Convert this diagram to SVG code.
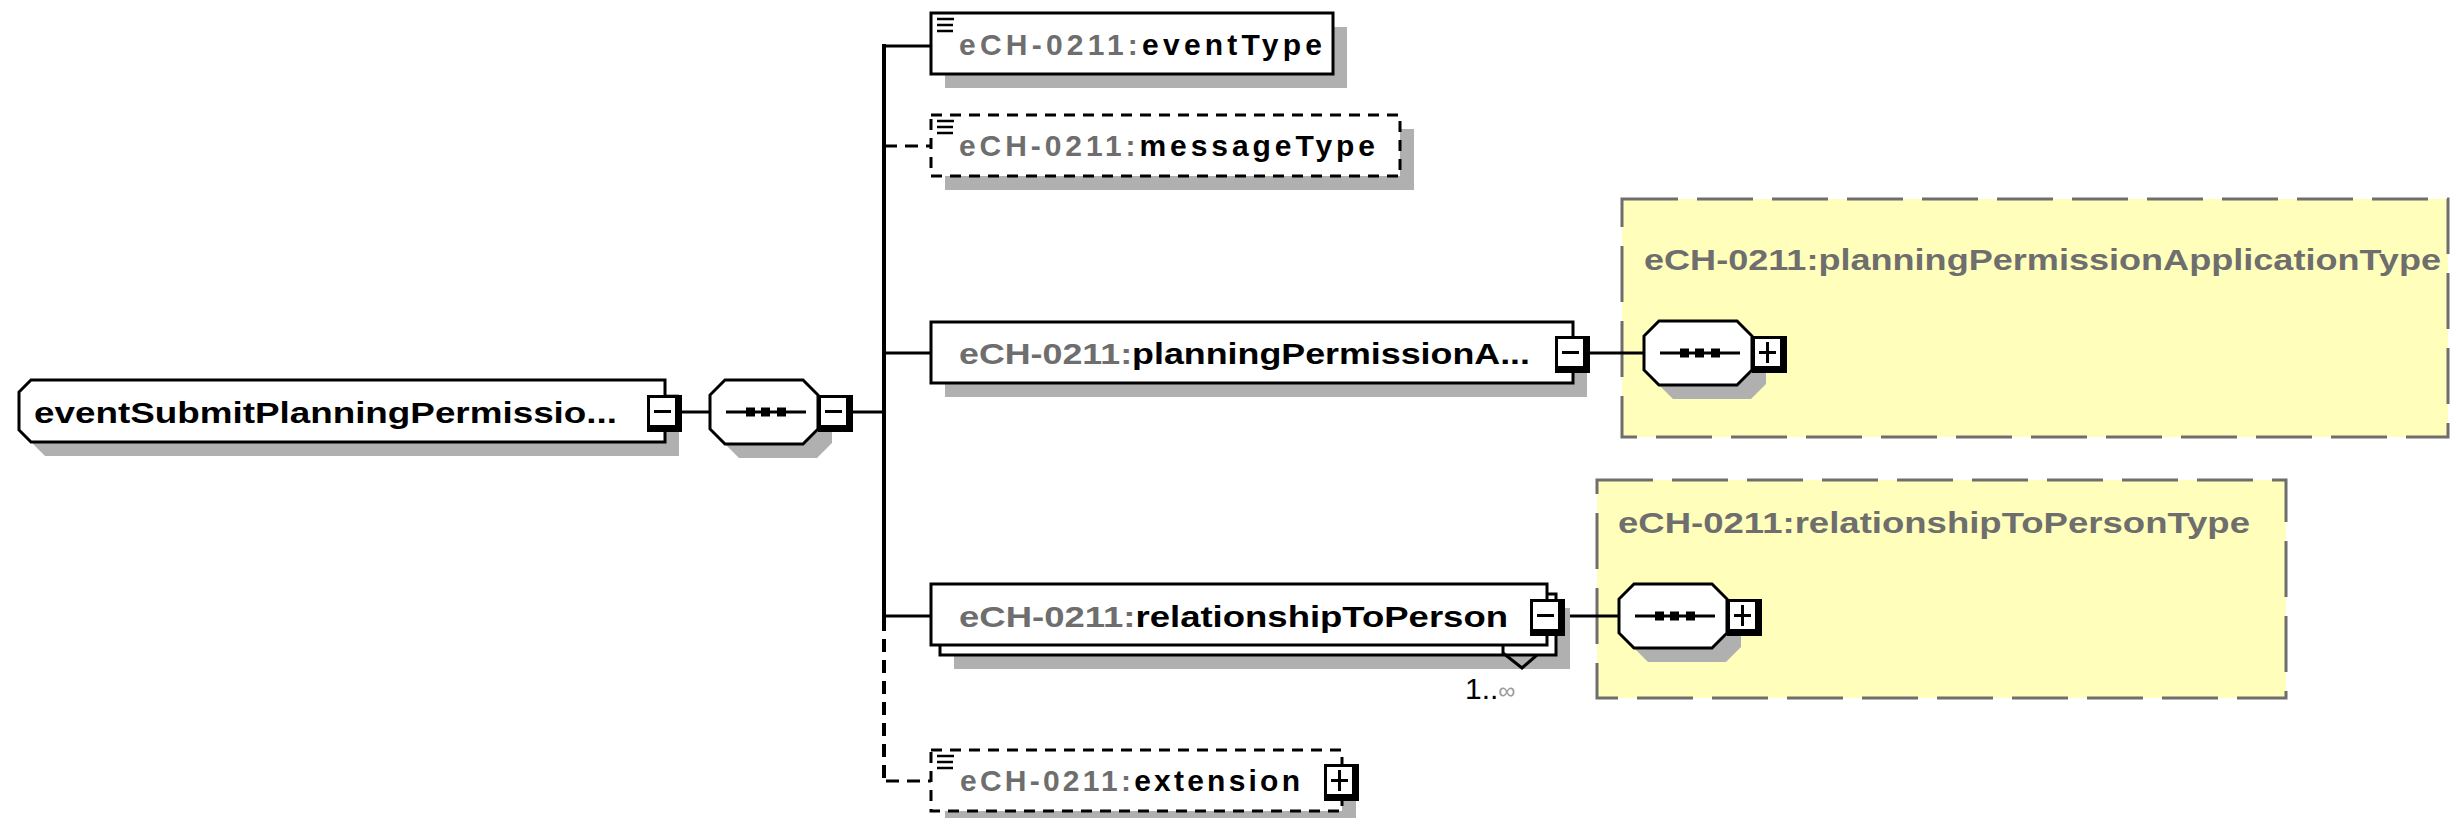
<svg xmlns="http://www.w3.org/2000/svg" xmlns:xlink="http://www.w3.org/1999/xlink" width="2450" height="818" viewBox="0 0 2450 818">
<style>
.box{fill:#fff;stroke:#000;stroke-width:3}
.dbox{fill:#fff;stroke:#000;stroke-width:3;stroke-dasharray:11 8}
.sh{fill:#b0b0b0}
.ybox{fill:#ffffbb;stroke:#6e6e6e;stroke-width:3;stroke-dasharray:56 19}
.ln{stroke:#000;stroke-width:3;fill:none}
.trunk{stroke:#000;stroke-width:4;fill:none}
.dln{stroke:#000;stroke-width:3;fill:none;stroke-dasharray:13 8}
.dtrunk{stroke:#000;stroke-width:4;fill:none;stroke-dasharray:13 8}
.t{font-family:"Liberation Sans",Arial,sans-serif;font-weight:bold;font-size:30px;fill:#000}
.g{fill:#6e6e6e}
.ic{stroke:#000;stroke-width:2.5}
</style>
<defs>
<g id="minus"><rect x="0" y="0" width="35" height="37" fill="#000"/><rect x="3" y="3" width="25" height="27" fill="#fff"/><line x1="7" y1="16.5" x2="24" y2="16.5" stroke="#000" stroke-width="3"/></g>
<g id="plus"><rect x="0" y="0" width="35" height="37" fill="#000"/><rect x="3" y="3" width="25" height="27" fill="#fff"/><line x1="7" y1="16.5" x2="24" y2="16.5" stroke="#000" stroke-width="3"/><line x1="15.5" y1="6" x2="15.5" y2="27" stroke="#000" stroke-width="3"/></g>
<g id="seq">
<path class="sh" transform="translate(14,14)" d="M15,0 H93 L108,15 V49 L93,64 H15 L0,49 V15 Z"/>
<path d="M15,0 H93 L108,15 V49 L93,64 H15 L0,49 V15 Z" fill="#fff" stroke="#000" stroke-width="3"/>
<line x1="16" y1="32" x2="96" y2="32" stroke="#000" stroke-width="3"/>
<rect x="36" y="27.5" width="9" height="9" fill="#000"/><rect x="51" y="27.5" width="9" height="9" fill="#000"/><rect x="67" y="27.5" width="9" height="9" fill="#000"/>
</g>
<g id="icon"><line class="ic" x1="0" y1="0" x2="17" y2="0"/><line class="ic" x1="0" y1="6" x2="16" y2="6"/><line class="ic" x1="0" y1="12" x2="16" y2="12"/></g>
</defs>
<rect width="2450" height="818" fill="#fff"/>

<g id="typebox-planningPermissionApplicationType">
<rect class="ybox" x="1622" y="199" width="826" height="238"/>
<text class="t g" x="1644" y="270" textLength="797" lengthAdjust="spacingAndGlyphs">eCH-0211:planningPermissionApplicationType</text>
</g>
<g id="typebox-relationshipToPersonType">
<rect class="ybox" x="1597" y="480" width="689" height="218"/>
<text class="t g" x="1618" y="533" textLength="632" lengthAdjust="spacingAndGlyphs">eCH-0211:relationshipToPersonType</text>
</g>

<g id="connectors">
<line class="trunk" x1="884" y1="44" x2="884" y2="618"/>
<line class="dtrunk" x1="884" y1="618" x2="884" y2="781"/>
<line class="ln" x1="884" y1="46" x2="931" y2="46"/>
<line class="dln" x1="884" y1="146" x2="931" y2="146"/>
<line class="ln" x1="884" y1="353" x2="931" y2="353"/>
<line class="ln" x1="884" y1="616" x2="931" y2="616"/>
<line class="dln" x1="886" y1="781" x2="931" y2="781"/>
<line class="ln" x1="680" y1="412" x2="710" y2="412"/>
<line class="ln" x1="850" y1="412" x2="884" y2="412"/>
<line class="ln" x1="1588" y1="353" x2="1644" y2="353"/>
<line class="ln" x1="1563" y1="616" x2="1619" y2="616"/>
</g>

<g id="root">
<path class="sh" transform="translate(14,14)" d="M31,380 H665 V442 H31 L19,430 V392 Z"/>
<path class="box" d="M31,380 H665 V442 H31 L19,430 V392 Z"/>
<text class="t" x="34" y="423" textLength="583" lengthAdjust="spacingAndGlyphs">eventSubmitPlanningPermissio...</text>
<use xlink:href="#minus" x="647" y="395"/>
</g>

<g id="sequence-root">
<use xlink:href="#seq" x="710" y="380"/>
<use xlink:href="#minus" x="818" y="395"/>
</g>

<g id="eventType">
<rect class="sh" x="945" y="27" width="402" height="61"/>
<rect class="box" x="931" y="13" width="402" height="61"/>
<use xlink:href="#icon" x="937" y="19"/>
<text class="t" x="959" y="55" textLength="363" lengthAdjust="spacing"><tspan class="g">eCH-0211:</tspan>eventType</text>
</g>

<g id="messageType">
<rect class="sh" x="945" y="129" width="469" height="61"/>
<rect class="dbox" x="931" y="115" width="469" height="61"/>
<use xlink:href="#icon" x="937" y="121"/>
<text class="t" x="959" y="156" textLength="416" lengthAdjust="spacing"><tspan class="g">eCH-0211:</tspan>messageType</text>
</g>

<g id="planningPermissionApplication">
<rect class="sh" x="945" y="336" width="642" height="61"/>
<rect class="box" x="931" y="322" width="642" height="61"/>
<text class="t" x="959" y="364" textLength="571" lengthAdjust="spacingAndGlyphs"><tspan class="g">eCH-0211:</tspan>planningPermissionA...</text>
<use xlink:href="#minus" x="1555" y="336"/>
</g>

<g id="sequence-planning">
<use xlink:href="#seq" x="1644" y="321"/>
<use xlink:href="#plus" x="1752" y="336"/>
</g>

<g id="relationshipToPerson">
<rect class="sh" x="954" y="608" width="616" height="61"/>
<rect class="box" x="940" y="594" width="616" height="61"/>
<rect class="box" x="931" y="584" width="616" height="61"/>
<text class="t" x="959" y="627" textLength="549" lengthAdjust="spacingAndGlyphs"><tspan class="g">eCH-0211:</tspan>relationshipToPerson</text>
<use xlink:href="#minus" x="1530" y="599"/>
<polyline class="ln" points="1503,646 1503,653 1522,668 1537,655"/>
<text x="1465" y="699" style="font-family:'Liberation Sans',Arial,sans-serif;font-size:30px" fill="#000">1..<tspan fill="#9a9a9a" font-size="24">∞</tspan></text>
</g>

<g id="sequence-relationship">
<use xlink:href="#seq" x="1619" y="584"/>
<use xlink:href="#plus" x="1727" y="599"/>
</g>

<g id="extension">
<rect class="sh" x="945" y="764" width="411" height="61"/>
<rect class="dbox" x="931" y="750" width="411" height="61"/>
<use xlink:href="#icon" x="937" y="756"/>
<text class="t" x="960" y="791" textLength="340" lengthAdjust="spacing"><tspan class="g">eCH-0211:</tspan>extension</text>
<use xlink:href="#plus" x="1324" y="764"/>
</g>
</svg>
